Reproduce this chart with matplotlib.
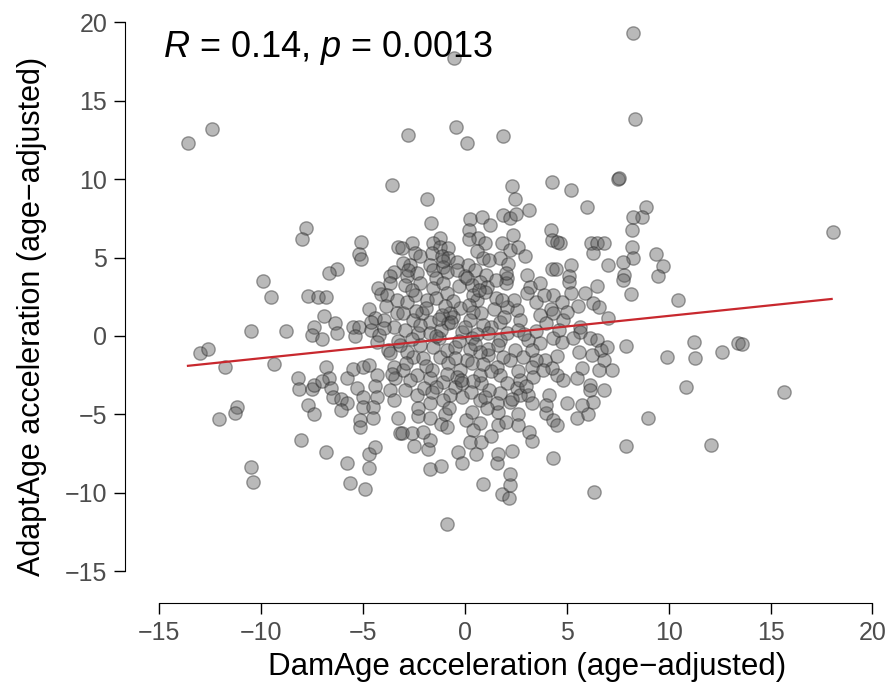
import numpy as np
import matplotlib
matplotlib.use("Agg")
import matplotlib.pyplot as plt

plt.rcParams['font.family'] = ['Liberation Sans', 'DejaVu Sans']
plt.rcParams['mathtext.fontset'] = 'custom'
plt.rcParams['mathtext.rm'] = 'Liberation Sans'
plt.rcParams['mathtext.it'] = 'Liberation Sans:italic'

# DamAge acceleration (x) and AdaptAge acceleration (y)
dam_age = [
    # sparse / outlying points
    -13.6, -12.4, -0.55, -0.45, 0.1, -2.8, 1.85, 8.25, 8.35, 18.05,
    -3.6, 7.5, 7.55, 2.3, 4.25, 5.2, -1.85, -1.65, 2.45, 3.15,
    6.0, 8.9, 8.7, 9.4, 9.7, 9.5, 10.45, 11.25, 9.9, 11.3,
    12.6, 13.4, 13.6, 10.85, 15.65, 9.0, 12.1, 7.9, 6.35, -0.9,
    # left side
    -7.8, -8.0, -5.1, -5.2, -5.1, -6.3, -6.7, -9.9, -3.3, -3.5, -3.7,
    -13.0, -12.6, -11.8, -10.5, -8.8, -9.5, -9.4,
    -7.7, -7.2, -6.8, -6.9, -6.4, -7.4, -7.5, -7.0, -6.3,
    -8.2, -8.15, -7.5, -7.4, -6.8, -6.7, -7.0, -6.6, -6.5, -6.1,
    -5.8, -5.5, -5.0, -4.7, -4.3, -5.3, -5.0, -4.4, -4.3,
    -7.7, -11.2, -12.1, -11.3,
    -5.5, -5.2, -5.4, -4.7, -4.4, -4.0, -4.6, -4.2, -4.3, -3.8, -4.1, -3.7,
    -3.35, -3.5, -3.7, -3.5, -3.45, -3.7, -3.5, -4.25, -3.85, -3.35,
    -5.0, -4.5, -5.8,
    # lower left
    -8.05, -6.8, -5.8, -4.7, -4.4, -4.7, -5.65, -4.9, -10.5, -10.4,
    -7.4, -6.1, -5.15, -5.15, -4.5, -3.3, -3.2,
    # lower centre
    0.9, 1.8, 2.15, 2.2, 2.2, 1.55, 1.6, 2.3, -0.35, -0.15,
    0.55, -1.7, -1.2, -1.8, -2.5, -1.7, -2.6, -2.05, -3.1,
    -2.3, -1.7, -1.2, -1.0, 0.05, 0.35, 0.75, 0.4, 0.25, 0.8,
    1.6, 2.0, 2.6, 2.6, 3.15, 3.3, 4.0, 4.3, 4.5, 5.5, 6.05, 1.6, 4.3,
    # upper centre
    0.25, 0.85, 1.25, 0.2, 1.85, 2.2, 2.5, 2.35, 0.65, 1.0,
    1.8, 2.2, 2.6, 2.95, 1.7, 0.9, 1.2, 2.1, 0.15, 0.5, 1.05, 2.05, 3.05,
    4.2, 4.25, 4.65, 4.5, 6.2, 6.5, 6.8, 6.3, 8.25, 8.2,
    8.2, 8.25, 7.75, 7.0, 5.2, 4.25, 4.45, 5.1, 7.8,
    -1.25, -2.6, -3.1, -2.45, -2.2, -1.55, -1.25, -0.85, -1.6, -1.15,
    -0.85, -0.4, -2.7, -3.05, -1.7, -1.55, -1.1, -0.9, -2.35, -2.85, -1.4,
    # dense centre
    -2.95, -2.2, -1.55, -1.1, -0.3, 0.35, 0.75, 1.1, 2.0, 3.2,
    3.7, 5.1, 6.5, 7.75, 8.15, 5.2, 5.9, 6.3, 6.6, 5.55,
    7.0, 4.3, 4.75, 4.2, 4.3, 3.7, 4.8, 5.65, 5.65, 3.5,
    3.05, 2.55, 2.7, 2.05, 1.5, 1.4, 1.7, 1.3, 0.6, 0.4,
    0.4, 0.8, 0.25, 0.9, -0.25, -0.6, -0.85, -0.75, -1.15, -1.7,
    -2.1, -2.55, -3.05, -2.85, -2.45, -1.85, -1.4, -0.9, -2.95, -2.3,
    -1.7, -1.3, -0.15, 0.35, 1.15, 1.7, 2.05, 2.6, 3.1, 3.7,
    4.3, 4.75, 5.3, 6.15, 6.5, 6.7, 6.25, 6.8, 7.9, 7.2,
    6.6, 5.75, 5.5, 6.15, 6.15, 6.3, 4.8, 4.5, 4.25, 3.95,
    3.5, 3.3, 3.35, 3.85, 4.1, 3.1, 2.55, 2.7, 2.45, 2.85,
    2.2, 1.85, 1.55, 1.7, 2.05, 1.7, 1.2, 0.8, 0.75, 1.15,
    1.15, 0.75, 0.25, 0.1, 0.35, -0.25, -0.4, -0.15, -0.5, -0.15,
    -0.75, -1.1, -1.1, -1.4, -1.7, -1.6, -2.35, -2.7, -3.05, -2.95,
    -2.35, -1.7, -2.55, -2.05, -2.85, -1.25, -0.85, -0.9, -0.5, -1.55,
    -2.2, 0.75, 1.55, 2.2, 2.7, 3.3, 4.0, 5.0, 5.75, 6.95, 6.8,
    -2.6, -1.9, -1.2, -0.6, 0.0, 0.6, 1.0, 1.9, 2.4, -0.3,
    -0.9, 0.4, 1.3, -1.9, -2.6, 0.0, -0.5, 0.9, 2.6, -3.2,
    -1.0, 0.2, 1.5, -2.0, 0.3, -0.8, 1.1, 3.5, 4.0, 3.0,
    -3.6, -4.0, -2.3, 5.0, 5.6, 4.5,
    # more of the crowded middle
    -1.4, -0.7, 0.5, 1.6, -2.4, -0.2, 0.7, 1.8, -1.1, 2.9,
    -3.9, -2.9, -0.4, 1.0, 2.3, -1.6, 0.2, 3.3, -2.2, 0.6,
    -4.6, -3.3, 1.3, 3.9, -0.9, 2.0, -2.8, 0.1, 4.6, -1.3,
]
adapt_age = [
    12.3, 13.2, 17.7, 13.3, 12.3, 12.8, 12.75, 19.3, 13.8, 6.6,
    9.6, 10.0, 10.05, 9.55, 9.8, 9.3, 8.7, 7.2, 8.7, 8.0,
    8.2, 8.2, 7.6, 5.2, 4.45, 3.8, 2.3, -0.4, -1.35, -1.4,
    -1.0, -0.45, -0.5, -3.25, -3.6, -5.2, -6.95, -7.0, -9.95, -12.0,
    6.9, 6.2, 6.0, 5.2, 4.9, 4.3, 4.0, 3.5, 5.7, 4.1, 3.8,
    -1.1, -0.8, -2.0, 0.3, 0.3, 2.5, -1.8,
    2.55, 2.5, 2.5, 1.3, 0.8, 0.6, 0.05, -0.2, 0.2,
    -2.7, -3.4, -3.4, -3.1, -2.0, -2.7, -2.9, -3.3, -3.9, -4.0,
    -2.7, -2.1, -2.0, -1.85, -2.5, -3.3, -3.9, -3.2, -3.9,
    -4.4, -4.5, -5.3, -4.9,
    0.6, 0.6, 0.0, 1.7, 1.15, 1.0, 0.4, 0.05, -0.4, -0.9, 2.7, 3.4,
    1.45, 0.6, -1.1, -2.0, -2.7, -3.45, -4.1, 3.05, 2.6, 2.3,
    -4.5, -4.5, -4.3,
    -6.6, -7.4, -8.1, -7.5, -7.1, -8.4, -9.4, -9.75, -8.35, -9.3,
    -5.0, -4.7, -5.35, -5.8, -5.2, -5.2, -6.2,
    -9.45, -10.1, -10.3, -9.5, -8.8, -8.1, -7.5, -7.3, -7.4, -8.1,
    -7.5, -8.5, -8.3, -7.2, -7.0, -6.6, -6.2, -6.1, -6.2,
    -5.1, -5.2, -5.6, -5.0, -5.35, -4.85, -5.55, -6.0, -6.75, -6.75,
    -5.7, -5.5, -5.0, -5.7, -6.1, -6.7, -4.9, -5.35, -5.7, -5.2, -5.0, -4.85, -7.8,
    7.45, 7.6, 7.1, 6.75, 7.7, 7.5, 7.8, 6.45, 6.25, 5.9,
    5.9, 5.5, 5.7, 5.1, 5.0, 5.0, 4.85, 4.6, 4.5, 4.2, 3.9, 3.7, 3.9,
    6.75, 6.1, 5.9, 6.0, 5.9, 5.9, 5.9, 5.3, 7.6, 6.75,
    5.7, 5.0, 4.7, 4.5, 4.5, 4.3, 4.25, 3.8, 3.9,
    6.25, 5.9, 5.6, 5.3, 5.1, 5.9, 5.7, 5.6, 5.3, 5.1,
    5.0, 4.7, 4.5, 4.65, 4.5, 4.2, 4.4, 4.1, 4.0, 3.8, 3.7,
    3.25, 3.4, 3.05, 3.4, 3.2, 3.25, 3.45, 3.1, 3.4, 3.1,
    3.4, 3.45, 3.2, 3.6, 2.7, 2.75, 2.75, 2.1, 1.85, 1.9,
    1.15, 2.6, 2.15, 1.7, 1.45, 1.35, 1.0, 0.55, 0.25, 2.15,
    2.75, 1.65, 1.0, 1.85, 2.4, 1.75, 0.9, 0.6, 2.3, 2.6,
    1.55, 1.45, 1.0, 0.7, 1.8, 1.2, 0.8, 1.45, 1.35, 0.9,
    1.45, 1.0, 1.45, 2.15, 2.6, 2.3, 2.4, 2.75, 0.4, 0.2,
    0.2, -0.1, 0.25, -0.1, 0.2, -0.25, 0.2, 0.4, -0.25, -0.45,
    -0.1, -0.4, -0.1, -0.1, -0.25, -0.9, -1.2, -1.5, -0.65, -2.15,
    -2.15, -2.05, -2.7, -3.1, -3.45, -4.2, -2.8, -2.5, -2.05, -1.5,
    -1.5, -2.0, -2.6, -2.15, -3.75, -3.75, -3.3, -2.8, -0.9, -1.35,
    -1.55, -1.35, -2.0, -2.5, -3.0, -3.65, -3.45, -3.0, -2.5, -1.2,
    -0.8, -1.0, -0.8, -1.55, -1.7, -2.15, -2.6, -3.0, -3.25, -3.9,
    -3.75, -4.1, -2.95, -3.25, -2.7, -2.15, -2.5, -2.8, -2.15, -3.45,
    -3.75, -4.3, -1.35, -1.4, -1.0, -1.35, -1.7, -0.9, -0.7, -0.7,
    -0.55, -4.1, -4.3, -4.2, -3.75, -4.25, -4.4, -4.3, -4.4, -0.7, -3.45,
    2.9, 1.8, 0.4, 2.2, 0.6, 0.1, 2.8, 1.2, 2.3, -0.3,
    -2.4, -2.9, -2.2, -1.9, -0.2, 3.8, -1.4, -1.8, -2.2, -0.6,
    1.9, 2.0, 3.6, -3.3, -3.6, -4.6, -4.6, 0.3, 0.8, -3.2,
    -2.4, 0.5, -4.6, 1.5, -1.0, -1.3,
    0.0, 0.9, -0.5, -0.6, 1.6, -2.8, 2.9, 2.3, 4.8, 0.1,
    1.9, -1.7, 4.2, -3.9, -4.0, -3.6, 6.2, -0.9, 0.7, 5.4,
    0.9, -0.3, -6.4, 2.6, -5.8, 4.0, 4.2, 3.7, 0.4, 1.1,
]
assert len(dam_age) == len(adapt_age)

# regression line ends as drawn on the picture
fit_x = [-13.6, 18.0]
fit_y = [-1.9, 2.36]

x_ticks = [-15, -10, -5, 0, 5, 10, 15, 20]
y_ticks = [-15, -10, -5, 0, 5, 10, 15, 20]

fig = plt.figure(figsize=(8.95, 6.91), dpi=100)
ax = fig.add_axes([0.1554, 0.1618, 0.8307, 0.8129])

ax.scatter(dam_age, adapt_age, s=92, facecolor='#5a5a5a', edgecolor='#222222',
           linewidths=1.0, alpha=0.42, zorder=2)
ax.plot(fit_x, fit_y, color='#c8282e', lw=1.6, zorder=3)

ax.set_xlim(-16, 20.5)
ax.set_ylim(-15.5, 20.3)
ax.set_xticks(x_ticks)
ax.set_yticks(y_ticks)

for side in ['top', 'right']:
    ax.spines[side].set_visible(False)
ax.spines['bottom'].set_position(('outward', 17))
ax.spines['left'].set_position(('outward', 10))
ax.spines['bottom'].set_bounds(-15, 20)
ax.spines['left'].set_bounds(-15, 20)
ax.tick_params(direction='out', length=8, width=1, labelsize=18,
               labelcolor='#4d4d4d', pad=5)

ax.set_xlabel('DamAge acceleration (age\u2212adjusted)', fontsize=22.5, labelpad=5)
ax.set_ylabel('AdaptAge acceleration (age\u2212adjusted)', fontsize=22, labelpad=13)
ax.xaxis.label.set_x(0.522)
ax.yaxis.label.set_y(0.467)

ax.text(0.032, 0.945, r'$R$ = 0.14, $p$ = 0.0013', transform=ax.transAxes,
        fontsize=26, ha='left', va='center')

fig.savefig('out.png', dpi=100)
